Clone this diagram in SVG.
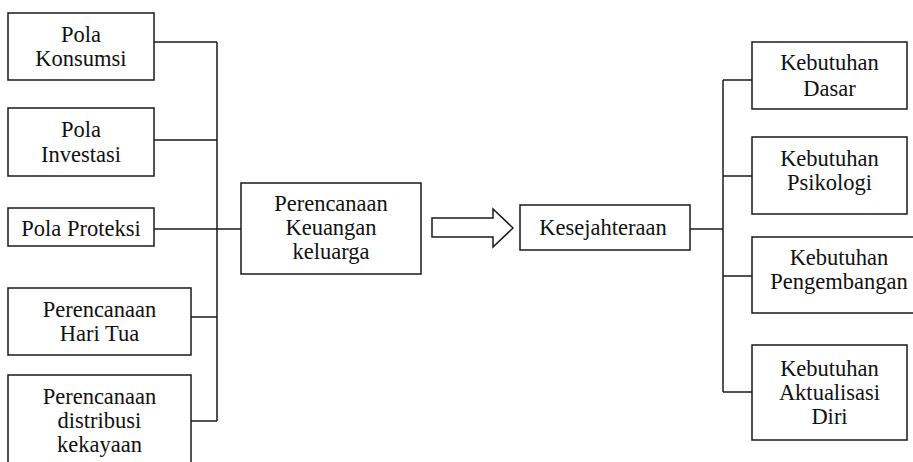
<svg xmlns="http://www.w3.org/2000/svg" width="913" height="462" viewBox="0 0 913 462">
<style>
.box{fill:#fff;stroke:#1a1a1a;stroke-width:1.5}
.ln{fill:none;stroke:#1a1a1a;stroke-width:1.5}
text{font-family:"Liberation Serif","Times New Roman",serif;font-size:22.5px;fill:#111;text-anchor:middle}
</style>
<rect width="913" height="462" fill="#fff"/>
<g id="connectors">
<path class="ln" d="M154,42H217M154,140H217M154,229H241M191,317H217M191,421H217M217,42V421"/>
<path class="ln" d="M690,229H723M723,80V392M723,80H752M723,176H752M723,276H752M723,392H752"/>
<polygon class="ln" points="432,218 493,218 493,209 513,228 493,247 493,237 432,237"/>
</g>
<g id="pola-konsumsi"><rect class="box" x="8" y="13" width="146" height="67"/><text x="81" y="42">Pola</text><text x="81" y="66">Konsumsi</text></g>
<g id="pola-investasi"><rect class="box" x="8" y="108" width="146" height="68"/><text x="81" y="137">Pola</text><text x="81" y="162">Investasi</text></g>
<g id="pola-proteksi"><rect class="box" x="8" y="208" width="146" height="38"/><text x="81" y="236">Pola Proteksi</text></g>
<g id="hari-tua"><rect class="box" x="8" y="288" width="183" height="67"/><text x="99.5" y="317">Perencanaan</text><text x="99.5" y="341">Hari Tua</text></g>
<g id="distribusi"><rect class="box" x="8" y="375" width="183" height="100"/><text x="99.5" y="404">Perencanaan</text><text x="99.5" y="428">distribusi</text><text x="99.5" y="452">kekayaan</text></g>
<g id="perencanaan-keuangan"><rect class="box" x="241" y="183" width="180" height="91"/><text x="331" y="211">Perencanaan</text><text x="331" y="235">Keuangan</text><text x="331" y="259">keluarga</text></g>
<g id="kesejahteraan"><rect class="box" x="520" y="205" width="170" height="45"/><text x="603" y="235">Kesejahteraan</text></g>
<g id="kebutuhan-dasar"><rect class="box" x="752" y="42" width="155" height="67"/><text x="829.5" y="70">Kebutuhan</text><text x="829.5" y="96">Dasar</text></g>
<g id="kebutuhan-psikologi"><rect class="box" x="752" y="137" width="155" height="77"/><text x="829.5" y="166">Kebutuhan</text><text x="829.5" y="190">Psikologi</text></g>
<g id="kebutuhan-pengembangan"><rect class="box" x="752" y="237" width="175" height="76"/><text x="839" y="265">Kebutuhan</text><text x="839" y="289">Pengembangan</text></g>
<g id="kebutuhan-aktualisasi"><rect class="box" x="752" y="345" width="155" height="95"/><text x="829.5" y="376">Kebutuhan</text><text x="829.5" y="400">Aktualisasi</text><text x="829.5" y="424">Diri</text></g>
</svg>
